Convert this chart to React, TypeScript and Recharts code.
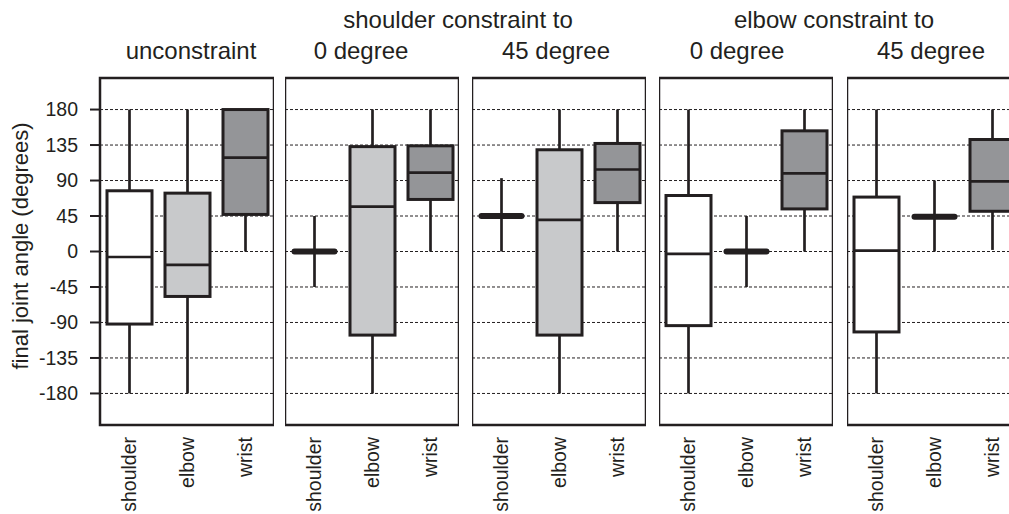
import { ComposedChart, Bar, XAxis, YAxis, CartesianGrid, ReferenceArea } from "recharts";

const JOINTS = ["shoulder", "elbow", "wrist"];
const PANELS = ["unconstraint", "shoulder 0", "shoulder 45", "elbow 0", "elbow 45"];

// five-number summaries, one row per panel, one column per joint
const MIN = [
  [-180, -180, 0],
  [-45, -180, 0],
  [0, -180, 0],
  [-180, -45, 0],
  [-180, 0, 2],
];
const Q1 = [
  [-92, -57, 47],
  [0, -106, 66],
  [45, -106, 62],
  [-94, 0, 54],
  [-102, 44, 51],
];
const MEDIAN = [
  [-7, -17, 119],
  [0, 57, 100],
  [45, 40, 104],
  [-3, 0, 99],
  [1, 44, 89],
];
const Q3 = [
  [77, 74, 180],
  [0, 133, 134],
  [45, 129, 137],
  [71, 0, 153],
  [69, 44, 142],
];
const MAX = [
  [180, 180, 180],
  [45, 180, 180],
  [93, 180, 180],
  [180, 45, 180],
  [180, 90, 180],
];

const Y_TICKS = [-180, -135, -90, -45, 0, 45, 90, 135, 180];
const HEADINGS = ["shoulder constraint to", "elbow constraint to"];
const SUBTITLES = ["unconstraint", "0 degree", "45 degree", "0 degree", "45 degree"];

const FILLS = ["#ffffff", "#c8c9cb", "#949598"];
const INK = "#231f20";
const FONT = "'Liberation Sans', Arial, Helvetica, sans-serif";

const PANEL_LEFT = [100, 285, 472, 659, 847];
const PANEL_W = 174;
const PLOT_TOP = 78;
const PLOT_BOTTOM = 425;
const H = 514;
const AXIS_W = 100;

const SUB_X = [191, 361, 556, 737, 931];
const HEAD_X = [458, 834];

function BoxShape(props: any) {
  const { x, y, width, height, payload } = props;
  const top = Math.min(y, y + height);
  const h = Math.abs(height);
  const { lo, hi, q1, med, q3, fill } = payload;
  const px = (v: number) => top + ((hi - v) / (hi - lo)) * h;
  const cx = x + width / 2;
  const flat = q1 === q3;
  return (
    <g>
      <line x1={cx} x2={cx} y1={px(hi)} y2={px(q3)} stroke={INK} strokeWidth={2.7} />
      <line x1={cx} x2={cx} y1={px(q1)} y2={px(lo)} stroke={INK} strokeWidth={2.7} />
      {flat ? (
        <line x1={cx - 20} x2={cx + 20} y1={px(med)} y2={px(med)} stroke={INK} strokeWidth={6} strokeLinecap="round" />
      ) : (
        <g>
          <rect x={x} y={px(q3)} width={width} height={px(q1) - px(q3)} fill={fill} stroke={INK} strokeWidth={3} />
          <line x1={x} x2={x + width} y1={px(med)} y2={px(med)} stroke={INK} strokeWidth={2.7} />
        </g>
      )}
    </g>
  );
}

function JointTick(props: any) {
  const { x, y, payload } = props;
  return (
    <text
      x={x}
      y={y}
      transform={`rotate(-90 ${x} ${y})`}
      textAnchor="end"
      dominantBaseline="central"
      fontSize={19.5}
      fontFamily={FONT}
      fill={INK}
    >
      {payload.value}
    </text>
  );
}

function Panel({ index }: { index: number }) {
  const first = index === 0;
  const data = JOINTS.map((joint, k) => ({
    joint,
    range: [MIN[index][k], MAX[index][k]],
    lo: MIN[index][k],
    hi: MAX[index][k],
    q1: Q1[index][k],
    med: MEDIAN[index][k],
    q3: Q3[index][k],
    fill: FILLS[k],
  }));
  const left = first ? 0 : PANEL_LEFT[index];
  const width = first ? PANEL_LEFT[0] + PANEL_W : PANEL_W;
  return (
    <div style={{ position: "absolute", left, top: 0 }}>
      <ComposedChart
        width={width}
        height={H}
        data={data}
        margin={{ top: PLOT_TOP, right: 0, bottom: 0, left: 0 }}
      >
        <CartesianGrid horizontal vertical={false} stroke={INK} strokeDasharray="3 2" strokeWidth={1} />
        <XAxis
          dataKey="joint"
          height={H - PLOT_BOTTOM}
          axisLine={false}
          tickLine={false}
          tickSize={0}
          tickMargin={12}
          interval={0}
          tick={<JointTick />}
        />
        <YAxis
          type="number"
          domain={[-220, 220]}
          ticks={Y_TICKS}
          allowDataOverflow
          hide={!first}
          width={first ? AXIS_W : 0}
          axisLine={false}
          tickSize={10}
          tickMargin={12}
          tickLine={{ stroke: INK, strokeWidth: 2 }}
          tick={{ fontSize: 19.5, fontFamily: FONT, fill: INK }}
        />
        <Bar dataKey="range" barSize={45} shape={<BoxShape />} isAnimationActive={false} />
        <ReferenceArea
          y1={-220}
          y2={220}
          fill="transparent"
          fillOpacity={0}
          stroke={INK}
          strokeWidth={2.5}
          ifOverflow="visible"
        />
      </ComposedChart>
    </div>
  );
}

export default function App() {
  return (
    <div
      style={{
        position: "absolute",
        left: 0,
        top: 0,
        width: 1009,
        height: H,
        overflow: "hidden",
        background: "#fff",
      }}
    >
      {PANELS.map((p, i) => (
        <Panel key={p} index={i} />
      ))}
      <svg width={1009} height={H} style={{ position: "absolute", left: 0, top: 0, pointerEvents: "none" }}>
        <g fontFamily={FONT} fill={INK} fontSize={24} textAnchor="middle">
          {HEADINGS.map((t, i) => (
            <text key={t} x={HEAD_X[i]} y={28}>
              {t}
            </text>
          ))}
          {SUBTITLES.map((t, i) => (
            <text key={i} x={SUB_X[i]} y={59}>
              {t}
            </text>
          ))}
        </g>
        <text
          x={20}
          y={246}
          transform="rotate(-90 20 246)"
          textAnchor="middle"
          dominantBaseline="central"
          fontFamily={FONT}
          fontSize={22}
          fill={INK}
        >
          final joint angle (degrees)
        </text>
      </svg>
    </div>
  );
}
